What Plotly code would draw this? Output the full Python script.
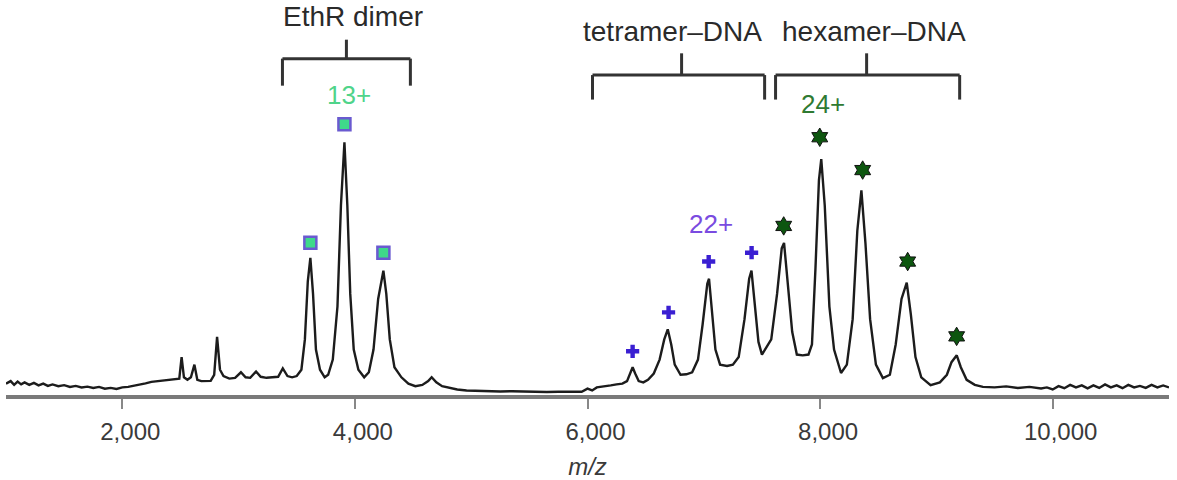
import plotly.graph_objects as go

# ---- spectrum (m/z, relative intensity) ----
mz = [1000, 1040, 1070, 1100, 1130, 1160, 1200, 1240, 1280, 1320, 1360, 1400, 1450, 1500, 1550,
      1600, 1650, 1700, 1750, 1800, 1850, 1900, 1950, 2000, 2050, 2100, 2150, 2200, 2250, 2300,
      2350, 2400, 2450, 2490, 2510, 2530, 2560, 2590, 2620, 2645, 2680, 2720, 2760, 2790, 2815,
      2840, 2870, 2920, 2970, 3020, 3060, 3100, 3150, 3190, 3240, 3290, 3340, 3380, 3420, 3460,
      3500, 3540, 3570, 3595, 3617, 3640, 3665, 3700, 3740, 3770, 3810, 3850, 3880, 3910, 3935,
      3960, 3990, 4030, 4080, 4120, 4160, 4200, 4245, 4270, 4300, 4340, 4400, 4460, 4520, 4580,
      4630, 4660, 4700, 4750, 4800, 4880, 4960, 5050, 5150, 5250, 5350, 5450, 5550, 5650, 5750,
      5850, 5950, 6000, 6040, 6080, 6120, 6160, 6200, 6250, 6300, 6340, 6370, 6388, 6410, 6440,
      6480, 6520, 6570, 6620, 6660, 6690, 6720, 6750, 6800, 6850, 6900, 6950, 6990, 7030, 7045,
      7070, 7100, 7140, 7200, 7250, 7300, 7350, 7390, 7410, 7440, 7470, 7500, 7540, 7580, 7630,
      7670, 7690, 7720, 7760, 7800, 7850, 7900, 7930, 7960, 7990, 8010, 8040, 8080, 8120, 8180,
      8230, 8280, 8320, 8355, 8390, 8430, 8480, 8540, 8600, 8650, 8700, 8745, 8780, 8820, 8870,
      8950, 9030, 9090, 9130, 9175, 9210, 9260, 9330, 9400, 9500, 9600, 9700, 9800, 9900, 9950,
      10000, 10050, 10100, 10150, 10200, 10250, 10300, 10350, 10400, 10450, 10500, 10550, 10600,
      10650, 10700, 10750, 10800, 10850, 10900, 10950, 11000]
intensity = [4.5, 5.5, 4.0, 5.3, 4.2, 5.0, 4.0, 4.8, 3.8, 4.5, 3.6, 4.2, 3.5, 3.9, 3.2,
             3.6, 3.0, 3.3, 2.8, 3.2, 2.5, 2.8, 2.4, 3.0, 3.2, 3.6, 4.0, 4.6, 5.2, 5.5,
             5.7, 5.9, 6.2, 6.5, 15.0, 7.0, 6.0, 7.0, 12.0, 6.0, 5.5, 5.4, 5.6, 8.0, 23.0,
             10.0, 7.5, 6.5, 6.8, 9.0, 7.0, 6.8, 9.3, 7.2, 6.8, 7.0, 7.2, 10.5, 7.5, 7.0,
             7.5, 10.0, 22.0, 45.0, 54.3, 40.0, 18.0, 10.0, 7.0, 8.0, 14.0, 35.0, 75.0, 100.0, 75.0,
             40.0, 18.0, 10.0, 7.0, 9.0, 18.0, 38.0, 49.2, 40.0, 22.0, 11.0, 7.0, 4.5, 3.5, 4.0,
             5.5, 7.0, 5.0, 3.5, 3.0, 2.2, 1.8, 1.6, 1.5, 1.4, 1.5, 1.3, 1.4, 1.2, 1.3,
             1.2, 1.3, 2.5, 1.8, 3.0, 3.2, 3.5, 3.8, 4.2, 4.5, 5.5, 9.5, 11.0, 8.5, 5.5,
             5.0, 6.0, 8.5, 14.0, 22.0, 26.0, 20.0, 12.0, 8.0, 8.2, 9.0, 14.0, 28.0, 44.0, 46.0,
             32.0, 18.0, 12.0, 11.5, 12.0, 15.0, 30.0, 46.0, 49.2, 35.0, 21.0, 16.0, 19.0, 22.0, 40.0,
             58.0, 60.2, 45.0, 25.0, 16.0, 15.7, 16.0, 20.0, 50.0, 85.0, 93.3, 75.0, 35.0, 18.0, 8.7,
             12.0, 30.0, 65.0, 81.0, 60.0, 30.0, 12.0, 6.7, 8.0, 20.0, 38.0, 44.5, 32.0, 15.0, 7.0,
             3.9, 5.0, 8.0, 13.0, 15.7, 11.0, 6.0, 4.0, 3.2, 3.0, 3.4, 2.8, 3.2, 2.6, 3.0,
             2.2, 3.5, 2.7, 4.0, 3.0, 3.8, 2.6, 3.8, 2.8, 4.2, 3.0, 3.8, 2.7,
             4.0, 3.0, 3.6, 2.8, 4.0, 3.0, 3.8, 3.0]

# ---- peak markers ----
dimer_mz = [3617, 3910, 4245]
dimer_y = [60.2, 107.1, 56.3]
tetramer_mz = [6388, 6697, 7042, 7411]
tetramer_y = [17.3, 32.7, 52.8, 56.3]
hexamer_mz = [7687, 7997, 8366, 8753, 9174]
hexamer_y = [66.9, 102.0, 89.0, 52.8, 23.2]

# ---- charge-state labels ----
charge_labels = ["13+", "22+", "24+"]
charge_mz = [3953, 7066, 8022]
charge_y = [118.9, 67.7, 115.0]
charge_colors = ["#4fd48a", "#7a4be0", "#2f7a32"]

# ---- bracketed groups ----
group_names = ["EthR dimer", "tetramer\u2013DNA", "hexamer\u2013DNA"]
group_start = [3377, 6043, 7617]
group_end = [4477, 7523, 9200]
group_mid = [3927, 6809, 8400]
group_text_mz = [3987, 6731, 8460]

tick_vals = [2000, 4000, 6000, 8000, 10000]
tick_text = ["2,000", "4,000", "6,000", "8,000", "10,000"]

FONT = "Liberation Sans, Arial, Helvetica, sans-serif"

fig = go.Figure()
fig.add_trace(go.Scatter(x=mz, y=intensity, mode="lines",
                         line=dict(color="#1c1c1c", width=2.4), hoverinfo="skip"))
fig.add_trace(go.Scatter(x=dimer_mz, y=dimer_y, mode="markers",
                         marker=dict(symbol="square", size=12, color="#3fd98a",
                                     line=dict(color="#6a5ad0", width=2.5))))
fig.add_trace(go.Scatter(x=tetramer_mz, y=tetramer_y, mode="markers",
                         marker=dict(symbol="cross", size=11, color="#3a1fd2",
                                     line=dict(width=0))))
fig.add_trace(go.Scatter(x=hexamer_mz, y=hexamer_y, mode="markers",
                         marker=dict(symbol="hexagram", size=14, color="#0d560f",
                                     line=dict(color="#111111", width=1))))

for t, x, y, c in zip(charge_labels, charge_mz, charge_y, charge_colors):
    fig.add_annotation(x=x, y=y, text=t, showarrow=False,
                       font=dict(family=FONT, size=26, color=c))

for name, s, e, m, tx in zip(group_names, group_start, group_end, group_mid, group_text_mz):
    is_dimer = name.startswith("EthR")
    h = 133.1 if is_dimer else 126.6
    foot = 122.4 if is_dimer else 116.9
    top = 140.6 if is_dimer else 135.2
    ty = 149.6 if is_dimer else 143.7
    ln = dict(color="#333333", width=3)
    fig.add_shape(type="line", x0=s, x1=e, y0=h, y1=h, line=ln)
    fig.add_shape(type="line", x0=s, x1=s, y0=h, y1=foot, line=ln)
    fig.add_shape(type="line", x0=e, x1=e, y0=h, y1=foot, line=ln)
    fig.add_shape(type="line", x0=m, x1=m, y0=h, y1=top, line=ln)
    fig.add_annotation(x=tx, y=ty, text=name, showarrow=False,
                       font=dict(family=FONT, size=28, color="#2a2a2a"))

fig.update_layout(
    width=1177, height=480,
    margin=dict(l=6, r=8, t=0, b=83),
    paper_bgcolor="white", plot_bgcolor="white",
    showlegend=False,
    xaxis=dict(range=[1000, 11000], tickvals=tick_vals, ticktext=tick_text,
               showgrid=False, zeroline=False, showline=True, linecolor="#7a7a7a", linewidth=4,
               ticks="outside", ticklen=10, tickwidth=2, tickcolor="#888888",
               ticklabelstandoff=2, ticklabelshift=8,
               tickfont=dict(family=FONT, size=24, color="#3a3a3a"),
               title=dict(text="<i>m/z</i>", standoff=18,
                          font=dict(family=FONT, size=24, color="#3a3a3a"))),
    yaxis=dict(range=[0, 156.3], visible=False),
)

fig.write_html("out.html", config={"displayModeBar": False},
               post_script="document.body.style.margin='0px';")
